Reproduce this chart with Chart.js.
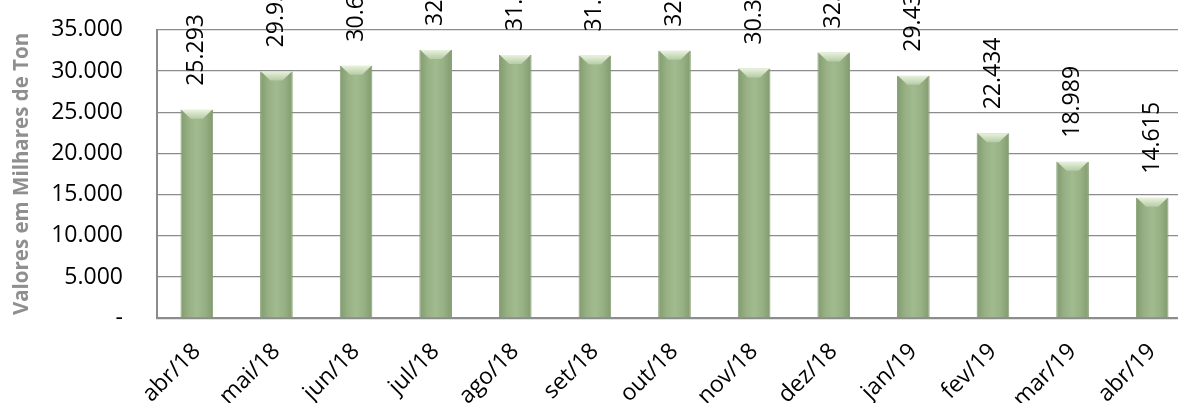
<!DOCTYPE html>
<html>
<head>
<meta charset="utf-8">
<script src="https://cdn.jsdelivr.net/npm/chart.js@4"></script>
<style>
  html, body { margin: 0; padding: 0; background: #fff; overflow: hidden; }
  #wrap { width: 1178px; height: 403px; overflow: hidden; }
  #volumeChart { display: block; margin-top: -18px; }
</style>
</head>
<body>
<div id="wrap"><canvas id="volumeChart" width="1192" height="451"></canvas></div>
<script>
// meses e volumes (milhares de ton)
const meses = ['abr/18', 'mai/18', 'jun/18', 'jul/18', 'ago/18', 'set/18', 'out/18',
  'nov/18', 'dez/18', 'jan/19', 'fev/19', 'mar/19', 'abr/19'];
const volumes = [25293, 29950, 30650, 32550, 31950, 31880, 32450, 30305, 32250, 29430, 22434, 18989, 14615];
const yTicks = [0, 5000, 10000, 15000, 20000, 25000, 30000, 35000];

function formatBR(v) {
  return String(v).replace(/\B(?=(\d{3})+(?!\d))/g, '.');
}

function barGradient(context) {
  const chart = context.chart;
  const xScale = chart.scales.x;
  if (!xScale || !chart.chartArea) return '#94ad82';
  const cx = xScale.getPixelForValue(context.dataIndex);
  const half = 16;
  const g = chart.ctx.createLinearGradient(cx - half, 0, cx + half, 0);
  g.addColorStop(0, '#829c70');
  g.addColorStop(0.25, '#97b084');
  g.addColorStop(0.5, '#a1ba8f');
  g.addColorStop(0.75, '#97b084');
  g.addColorStop(1, '#829c70');
  return g;
}

// bisel claro no topo das barras + rótulos de valor girados
const barDecor = {
  id: 'barDecor',
  afterDatasetsDraw(chart) {
    const ctx = chart.ctx;
    const meta = chart.getDatasetMeta(0);
    meta.data.forEach(bar => {
      const l = bar.x - bar.width / 2, r = bar.x + bar.width / 2, t = bar.y;
      const g = ctx.createLinearGradient(0, t, 0, t + 10);
      g.addColorStop(0, '#e8f2dd');
      g.addColorStop(1, '#b1c79f');
      ctx.save();
      ctx.beginPath();
      ctx.moveTo(l + 1, t);
      ctx.lineTo(r - 1, t);
      ctx.lineTo(r - 4, t + 3);
      ctx.lineTo(bar.x + 6, t + 9);
      ctx.lineTo(bar.x - 6, t + 9);
      ctx.lineTo(l + 4, t + 3);
      ctx.closePath();
      ctx.fillStyle = g;
      ctx.fill();
      ctx.restore();
    });

    ctx.save();
    ctx.font = '23px "Open Sans"';
    ctx.fillStyle = '#000';
    ctx.textAlign = 'left';
    ctx.textBaseline = 'middle';
    meta.data.forEach((bar, i) => {
      ctx.save();
      ctx.translate(bar.x, bar.y - 24);
      ctx.rotate(-Math.PI / 2);
      ctx.fillText(formatBR(volumes[i]), 0, 0);
      ctx.restore();
    });
    ctx.restore();
  }
};

const ctx = document.getElementById('volumeChart').getContext('2d');
new Chart(ctx, {
  type: 'bar',
  data: {
    labels: meses,
    datasets: [{
      data: volumes,
      backgroundColor: barGradient,
      borderColor: '#86a075',
      borderWidth: 1,
      barPercentage: 1,
      categoryPercentage: 0.41
    }]
  },
  options: {
    responsive: false,
    animation: false,
    layout: { padding: { top: 12, left: 7, right: 0, bottom: 0 } },
    plugins: {
      legend: { display: false },
      tooltip: { enabled: false }
    },
    scales: {
      x: {
        grid: { display: false, drawTicks: false },
        border: { color: '#8c8c8c', width: 2 },
        ticks: {
          color: '#000',
          font: { family: 'Open Sans', size: 23 },
          minRotation: 45,
          maxRotation: 45,
          padding: 20
        }
      },
      y: {
        min: 0,
        max: 35000,
        afterBuildTicks(axis) {
          axis.ticks = yTicks.map(v => ({ value: v }));
        },
        afterFit(axis) {
          axis.width = 150;
        },
        grid: { color: '#8c8c8c', lineWidth: 1.3, drawTicks: false },
        border: { color: '#8c8c8c', width: 2 },
        ticks: {
          color: '#000',
          font: { family: 'Open Sans', size: 23 },
          padding: 34,
          callback: v => v === 0 ? '-' : formatBR(v)
        },
        title: {
          display: true,
          text: 'Valores em Milhares de Ton',
          color: '#8f8f8f',
          font: { family: 'Open Sans', size: 20.5, weight: 'bold' },
          padding: { top: 3, bottom: 18 }
        }
      }
    }
  },
  plugins: [barDecor]
});
</script>
</body>
</html>
